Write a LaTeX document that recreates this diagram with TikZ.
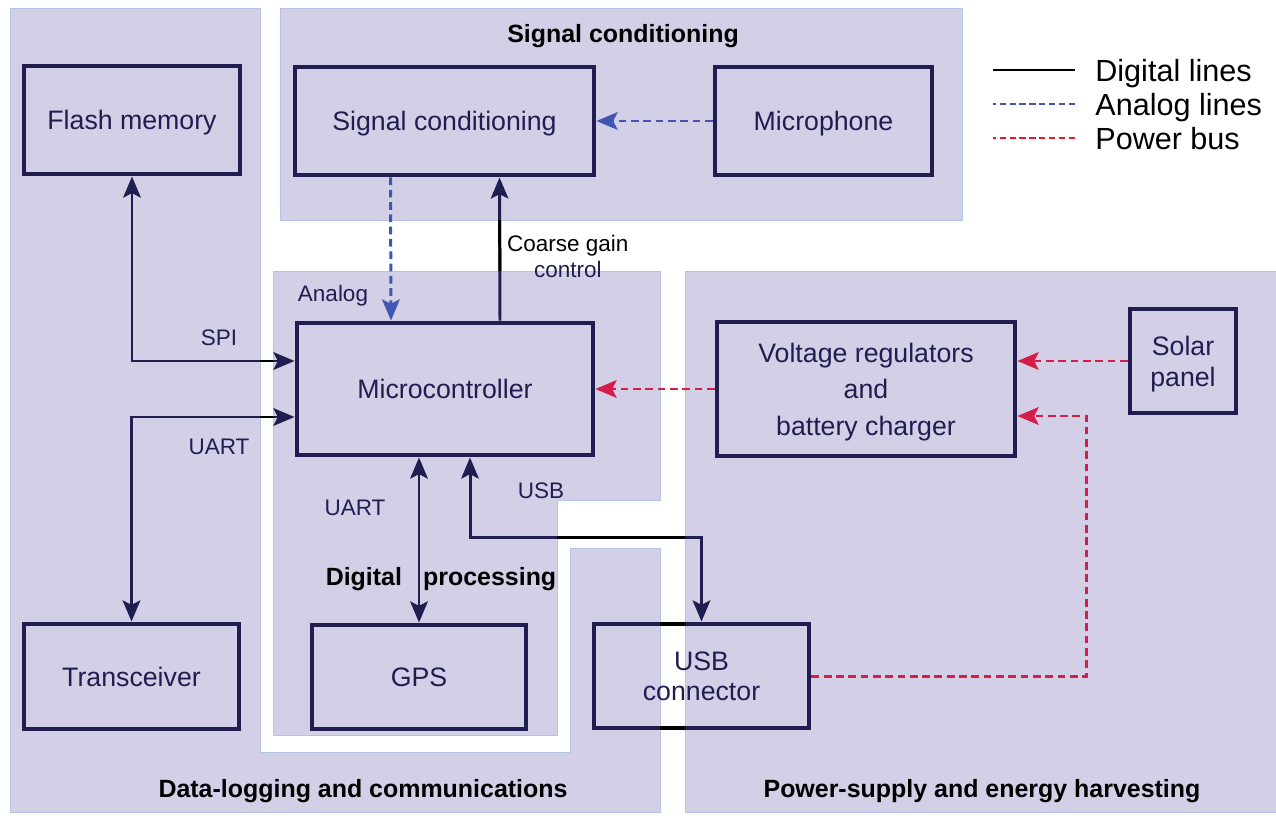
\documentclass[tikz,border=0pt]{standalone}
\usepackage{fontspec}
\setmainfont{Liberation Sans}
\usepackage{xcolor}
\usetikzlibrary{arrows.meta,positioning,calc}
\definecolor{navy}{RGB}{32,30,80}
\definecolor{lav}{RGB}{211,207,230}
\definecolor{lavedge}{RGB}{180,196,226}
\definecolor{anablue}{RGB}{65,85,178}
\definecolor{pwrred}{RGB}{214,28,72}
\definecolor{legred}{RGB}{240,20,40}

\begin{document}
\begin{tikzpicture}[x=0.2mm, y=-0.2mm, >={Stealth[length=12pt,width=10pt,inset=2.5pt]}]
\tikzstyle{region}=[fill=lav, draw=lavedge, line width=0.5pt]
\tikzstyle{blk}=[draw=navy, line width=2.8pt, text=navy, inner sep=0pt, text depth=0pt, align=center, font=\fontsize{15.2}{18}\selectfont]
\tikzstyle{lbl}=[text=navy, text depth=0pt, font=\fontsize{12.8}{14.8}\selectfont]
\tikzstyle{head}=[text depth=0pt, font=\fontsize{14.2}{17}\selectfont\bfseries]
\tikzstyle{legtxt}=[anchor=west, inner sep=0pt, text depth=0pt, font=\fontsize{17.4}{20}\selectfont]
\tikzstyle{dig}=[draw=navy, line width=1.7pt]
\tikzstyle{ana}=[draw=anablue, line width=1.7pt, dash pattern=on 4.4pt off 2.6pt]
\tikzstyle{pwr}=[draw=pwrred, line width=1.7pt, dash pattern=on 4.4pt off 2.6pt]
\useasboundingbox (0,0) rectangle (1276,815);
\fill[white] (0,0) rectangle (1276,815);

% background regions
\draw[region] (10,8) -- (260,8) -- (260,752) -- (570,752) -- (570,548) -- (660,548) -- (660,812) -- (10,812) -- cycle;
\draw[region] (280,8) rectangle (962,220);
\draw[region] (273,271) -- (660,271) -- (660,500) -- (557,500) -- (557,735) -- (273,735) -- cycle;
\draw[region] (685,271) rectangle (1276,812);

\node[head] (sighead) at (623,33) {Signal conditioning};
\node[head] (digihead) at (441,576) {Digital\hspace{12pt}processing};
\node[head] (datahead) at (363,788) {Data-logging and communications};
\node[head] (powhead) at (982,788) {Power-supply and energy harvesting};

% blocks
\node[blk, minimum width=43.2mm, minimum height=21.6mm] (flash) at (132,120) {Flash memory};
\node[blk, minimum width=59.8mm, minimum height=21.6mm] (sigc) at (444.5,121) {Signal conditioning};
\node[blk, minimum width=43.4mm, minimum height=21.6mm] (mic) at (823.5,121) {Microphone};
\node[blk, minimum width=59.2mm, minimum height=26.4mm] (mcu) at (445,389) {Microcontroller};
\node[blk, minimum width=59.6mm, minimum height=26.8mm, font=\fontsize{15.2}{20.8}\selectfont] (vreg) at (866,389) {Voltage regulators\\and\\battery charger};
\node[blk, minimum width=21.2mm, minimum height=20.8mm, font=\fontsize{15.2}{17.6}\selectfont] (solar) at (1183,361) {Solar\\panel};
\node[blk, minimum width=43mm, minimum height=21mm] (trx) at (131.5,676.5) {Transceiver};
\node[blk, minimum width=42.8mm, minimum height=20.8mm] (gps) at (419,677) {GPS};
\node[blk, minimum width=43mm, minimum height=20.8mm, font=\fontsize{15.2}{17.1}\selectfont] (usbc) at (701.5,676) {USB\\connector};

% connectors
\draw[dig, <->] (flash.south) |- ([yshift=5.6mm]mcu.west);
\draw[dig, <->] (trx.north) |- ([yshift=-5.6mm]mcu.west);
\draw[dig, <->] (gps.north) -- (gps.north |- mcu.south);
\draw[dig, <->] ([xshift=5mm]mcu.south) -- ++(0,80) -| (usbc.north);
\draw[dig, ->] ([xshift=11mm]mcu.north) -- node[lbl, right, pos=0.45, align=center] {\textcolor{black}{Coarse gain}\\control} ([xshift=11mm]sigc.south);
\draw[ana, ->] ([xshift=-10.8mm]sigc.south) -- ([xshift=-10.8mm]mcu.north);
\draw[ana, ->] (mic.west) -- (sigc.east);
\draw[pwr, ->] (vreg.west) -- (mcu.east);
\draw[pwr, ->] (solar.west) -- (solar.west -| vreg.east);
\draw[pwr, ->] (usbc.east) -- ++(275,0) |- ([yshift=-5.4mm]vreg.east);

% where lines cross the white gaps they show black
\begin{scope}
\clip (260,8) rectangle (273,752) (260,220) rectangle (685,271) (557,500) rectangle (685,548) (660,548) rectangle (685,812);
\draw[black, line width=1.7pt] (flash.south) |- ([yshift=5.6mm]mcu.west);
\draw[black, line width=1.7pt] (trx.north) |- ([yshift=-5.6mm]mcu.west);
\draw[black, line width=1.7pt] ([xshift=5mm]mcu.south) -- ++(0,80) -| (usbc.north);
\draw[black, line width=1.7pt] ([xshift=11mm]mcu.north) -- ([xshift=11mm]sigc.south);
\draw[black, line width=2.8pt] ([yshift=-1.4pt]usbc.north west) -- ([yshift=-1.4pt]usbc.north east);
\draw[black, line width=2.8pt] ([yshift=1.4pt]usbc.south west) -- ([yshift=1.4pt]usbc.south east);
\end{scope}

\node[lbl] (spi) at (219,338) {SPI};
\node[lbl] (uartl) at (219,447) {UART};
\node[lbl] (uartb) at (355,508) {UART};
\node[lbl] (usb) at (541,491) {USB};
\node[lbl] (analog) at (333,293) {Analog};

% legend
\node[legtxt] (legdig) at (1095,70) {Digital lines};
\node[legtxt] (legana) at (1095,104) {Analog lines};
\node[legtxt] (legpwr) at (1095,138) {Power bus};
\draw[black, line width=1.4pt] ([xshift=-4mm]legdig.west) -- ++(-82,0);
\draw[anablue, line width=1.2pt, dash pattern=on 3.6pt off 2pt] ([xshift=-4mm]legana.west) -- ++(-82,0);
\draw[legred, line width=1.2pt, dash pattern=on 3.6pt off 2pt] ([xshift=-4mm]legpwr.west) -- ++(-82,0);
\end{tikzpicture}
\end{document}
